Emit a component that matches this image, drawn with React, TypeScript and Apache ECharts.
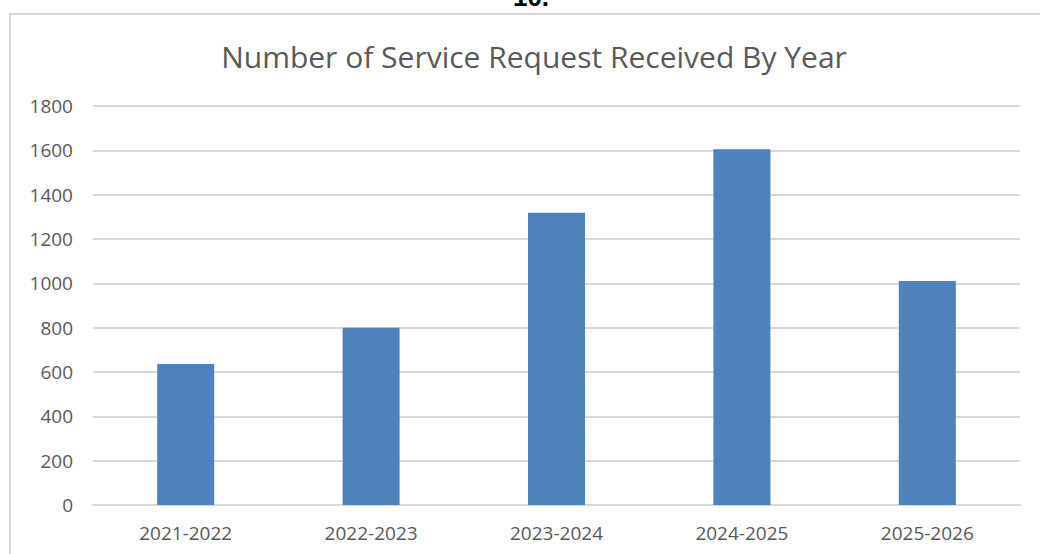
import React, { useEffect, useRef } from "react";
import * as echarts from "echarts";

const categories = ["2021-2022", "2022-2023", "2023-2024", "2024-2025", "2025-2026"];
const requests = [636, 800, 1318, 1605, 1010];
const chartTitle = "Number of Service Request Received By Year";
const headingText = "10.";

export default function App() {
  const ref = useRef<HTMLDivElement>(null);
  useEffect(() => {
    if (!ref.current) return;
    const chart = echarts.init(ref.current, undefined, { renderer: "svg" });
    chart.setOption({
      animation: false,
      backgroundColor: "#ffffff",
      title: {
        text: chartTitle,
        left: 529,
        top: 36,
        textAlign: "center",
        textStyle: {
          fontFamily: "Open Sans",
          fontSize: 30,
          fontWeight: "normal",
          color: "#595959",
        },
      },
      graphic: [
        {
          type: "rect",
          shape: { x: 10, y: 14, width: 1100, height: 600 },
          style: { fill: "none", stroke: "#d9d9d9", lineWidth: 2 },
          silent: true,
          z: 0,
        },
        {
          type: "text",
          x: 531,
          y: -3,
          style: {
            text: headingText,
            fontFamily: "Liberation Sans",
            fontWeight: "bold",
            fontSize: 26,
            fill: "#000000",
            align: "center",
            verticalAlign: "middle",
          },
        },
      ],
      grid: { left: 93, right: 20, top: 106, bottom: 49, containLabel: false },
      xAxis: {
        type: "category",
        data: categories,
        axisLine: { lineStyle: { color: "#d9d9d9", width: 2 } },
        axisTick: { show: false },
        axisLabel: {
          fontFamily: "Open Sans",
          fontSize: 19,
          color: "#595959",
          margin: 18,
        },
      },
      yAxis: {
        type: "value",
        min: 0,
        max: 1800,
        interval: 200,
        axisLine: { show: false },
        axisTick: { show: false },
        splitLine: { lineStyle: { color: "#d9d9d9", width: 2 } },
        axisLabel: {
          fontFamily: "Open Sans",
          fontSize: 19,
          color: "#595959",
          margin: 20,
          formatter: (v: number) => String(v),
        },
      },
      series: [
        {
          type: "bar",
          data: requests,
          barWidth: 57,
          itemStyle: { color: "#4f81bd" },
        },
      ],
    });
    return () => chart.dispose();
  }, []);
  return (
    <div
      ref={ref}
      style={{ position: "fixed", left: 0, top: 0, width: 1040, height: 554 }}
    />
  );
}
